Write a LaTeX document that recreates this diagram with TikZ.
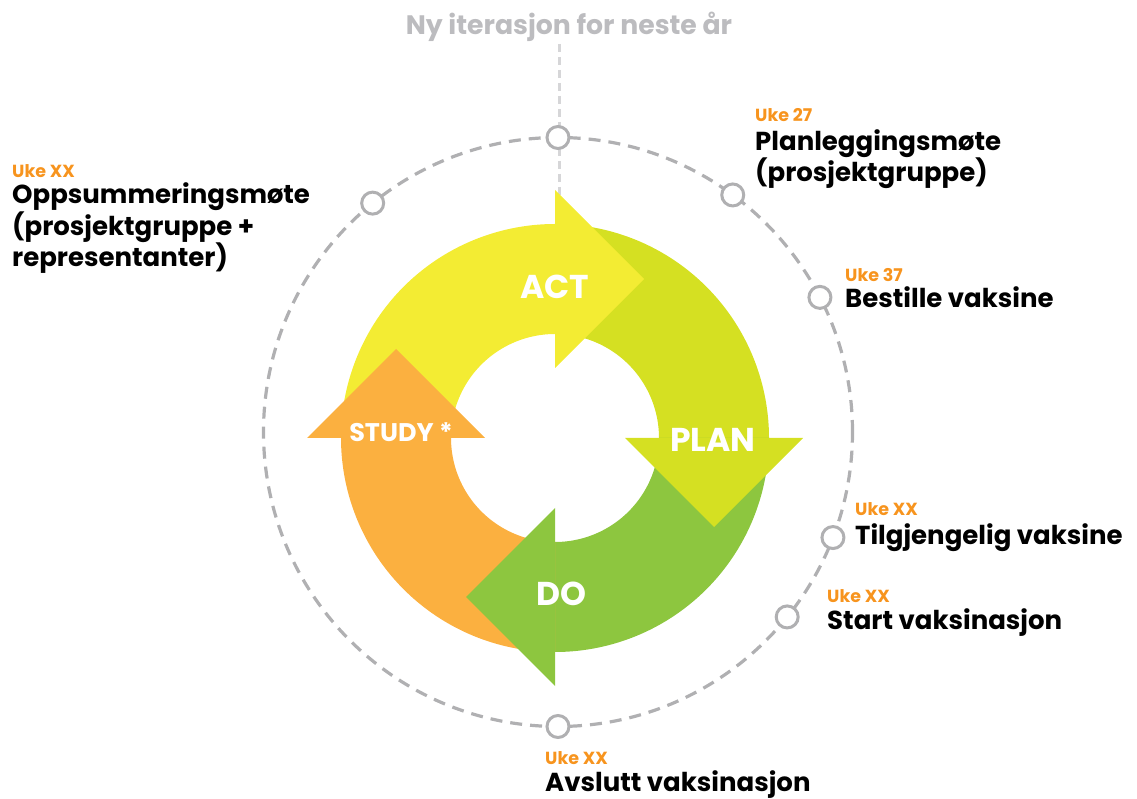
\documentclass[tikz,border=0pt]{standalone}
\usepackage{fontspec}
\setmainfont{Poppins}
\definecolor{actc}{RGB}{243,236,51}
\definecolor{planc}{RGB}{213,224,34}
\definecolor{doc}{RGB}{141,198,63}
\definecolor{studyc}{RGB}{251,176,64}
\definecolor{weekorange}{RGB}{247,148,30}
\definecolor{ringgray}{RGB}{176,176,178}
\definecolor{titlegray}{RGB}{188,188,191}
\definecolor{axisgray}{RGB}{214,214,216}
\begin{document}
\begin{tikzpicture}[x=1pt,y=1pt,
  marker/.style={circle, draw=ringgray, line width=3pt, fill=white,
    minimum size=22pt, inner sep=0pt},
  week/.style={anchor=base west, inner sep=0pt, text=weekorange,
    font=\bfseries\fontsize{17.5}{20}\selectfont},
  eventlabel/.style={anchor=base west, inner sep=0pt,
    font=\bfseries\fontsize{26}{30}\selectfont, align=left},
  phaselabel/.style={text=white, inner sep=0pt,
    font=\bfseries\fontsize{33}{38}\selectfont},
  cycleline/.style={draw=ringgray, line width=3.2pt, dash pattern=on 12pt off 8pt}
]
\useasboundingbox (0,0) rectangle (1137,798);

% dashed yearly cycle
\coordinate (dc) at (558,366);
\draw[cycleline] (dc) circle[radius=294.5];

% vertical axis towards next iteration
\node[anchor=base, inner sep=0pt, text=titlegray,
  font=\bfseries\fontsize{26.7}{30}\selectfont] (ttl) at (569,763) {Ny iterasjon for neste år};
\coordinate (vtop) at (559,754);
\coordinate (vbot) at (559,600);
\draw[axisgray, line width=3pt, dash pattern=on 8pt off 5pt] (vtop) -- (vbot);

% PDSA wheel
\begin{scope}[shift={(555,360)}]
  % ring segments
  \fill[actc] (180:214) arc[start angle=180, end angle=89, radius=214]
    -- (89:104) arc[start angle=89, end angle=180, radius=104] -- cycle;
  \fill[planc] (90:214) arc[start angle=90, end angle=-1, radius=214]
    -- (-1:104) arc[start angle=-1, end angle=90, radius=104] -- cycle;
  \fill[doc] (0:214) arc[start angle=0, end angle=-91, radius=214]
    -- (-91:104) arc[start angle=-91, end angle=0, radius=104] -- cycle;
  \fill[studyc] (-90:214) arc[start angle=-90, end angle=-181, radius=214]
    -- (-181:104) arc[start angle=-181, end angle=-90, radius=104] -- cycle;
  % arrow heads
  \fill[actc] (0,248) -- (89,159) -- (0,70) -- cycle;
  \fill[planc] (70,0) -- (248,0) -- (159,-89) -- cycle;
  \fill[doc] (0,-70) -- (0,-248) -- (-89,-159) -- cycle;
  \fill[studyc] (-70,0) -- (-248,0) -- (-159,89) -- cycle;
\end{scope}

\node[phaselabel] (act) at (555,511) {ACT};
\node[phaselabel] (plan) at (713,358) {PLAN};
\node[phaselabel] (do) at (561,204) {DO};
\node[phaselabel, font=\bfseries\fontsize{25.5}{30}\selectfont] (study) at (401,366) {STUDY *};

% milestones on the cycle
\begin{scope}[shift={(dc)}]
  \node[marker] (m-top) at (90:294.5) {};
  \node[marker] (m-opp) at (129:294.5) {};
  \node[marker] (m-plan) at (53.6:294.5) {};
  \node[marker] (m-best) at (27.2:294.5) {};
  \node[marker] (m-tilg) at (-21:294.5) {};
  \node[marker] (m-start) at (-38.9:294.5) {};
  \node[marker] (m-avsl) at (-90:294.5) {};
\end{scope}

% milestone texts (multi-line nodes sit on their last baseline)
\node[week] (w-opp) at (12,620) {Uke XX};
\node[eventlabel] (t-opp) at (12,531) {Oppsummeringsmøte\\(prosjektgruppe +\\representanter)};
\node[week] (w-plan) at (755,676) {Uke 27};
\node[eventlabel] (t-plan) at (755,616) {Planleggingsmøte\\(prosjektgruppe)};
\node[week] (w-best) at (845,516) {Uke 37};
\node[eventlabel] (t-best) at (845,490) {Bestille vaksine};
\node[week] (w-tilg) at (855,282) {Uke XX};
\node[eventlabel] (t-tilg) at (855,253) {Tilgjengelig vaksine};
\node[week] (w-start) at (827,195) {Uke XX};
\node[eventlabel] (t-start) at (827,168) {Start vaksinasjon};
\node[week] (w-avsl) at (545,34) {Uke XX};
\node[eventlabel] (t-avsl) at (545,7) {Avslutt vaksinasjon};
\end{tikzpicture}
\end{document}
